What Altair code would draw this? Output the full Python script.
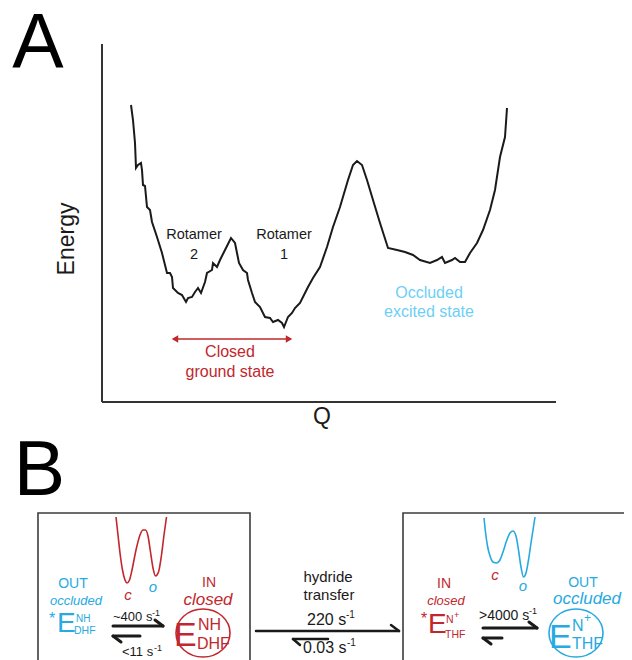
import altair as alt
import pandas as pd

RED = "#c1272d"
BLUE = "#27aae1"
LIGHT_BLUE = "#6dcff6"
INK = "#1a1a1a"
BOX = "#3c3c3c"
FONT = "Liberation Sans"

# ---------------- Panel A: energy landscape (arbitrary units)
curve_q = [29, 31, 33, 34, 36, 39, 40, 41, 43, 45,
           48, 50, 55, 60, 65, 68, 70, 71, 76, 80,
           84, 86, 90, 93, 96, 99, 103, 105, 110, 111,
           115, 118, 123, 129, 133, 135, 137, 141, 145, 146,
           150, 153, 158, 163, 168, 171, 176, 180, 182, 186,
           190, 193, 198, 203, 206, 211, 218, 225, 231, 238,
           246, 251, 255, 260, 265, 271, 278, 286, 295, 303,
           311, 318, 328, 335, 340, 343, 350, 353, 358, 363,
           368, 375, 381, 388, 393, 398, 403, 405]
curve_e = [297, 282, 259, 234, 237, 239, 232, 217, 216, 195,
           192, 180, 165, 149, 129, 129, 125, 114, 109, 107,
           100, 104, 105, 110, 114, 109, 120, 129, 132, 139,
           135, 142, 152, 164, 159, 149, 139, 132, 129, 122,
           109, 100, 95, 85, 84, 80, 82, 79, 75, 85,
           89, 94, 99, 109, 115, 124, 135, 155, 175, 195,
           222, 237, 241, 237, 222, 202, 179, 154, 152, 150,
           147, 142, 139, 142, 145, 139, 142, 144, 140, 140,
           149, 159, 172, 192, 212, 245, 265, 294]
axis_q_max = 454
axis_e_max = 358

a_text = ["Rotamer", "2", "Rotamer", "1", "Occluded", "excited state",
          "Closed", "ground state", "Q"]
a_text_q = [92, 92, 182, 182, 327, 327, 128, 128, 220]
a_text_e = [167, 147, 167, 147, 109, 90, 50, 30, -15]
a_text_size = [14.5, 14.5, 14.5, 14.5, 16, 16, 16, 16, 23]
a_text_color = [INK, INK, INK, INK, LIGHT_BLUE, LIGHT_BLUE, RED, RED, INK]

closed_span_q = [71, 189]
closed_span_e = 63

# ---------------- Panel B: kinetic scheme (diagram units)
w_red_x = [116, 118, 120, 122.5, 125, 127, 129.5, 132, 136, 140,
           143, 145.5, 148, 150.5, 153, 155.5, 158.5, 161.5, 164, 166.5]
w_red_y = [517, 535, 553, 570, 580, 583, 580, 570, 550, 535,
           530, 530, 536, 552, 568, 576, 572, 555, 535, 517]
w_blue_x = [484, 485.5, 487.5, 490, 493, 496.5, 500, 503, 506.5, 510,
            513, 516, 518.5, 521, 523.5, 526, 528.5, 531, 533, 535]
w_blue_y = [518, 532, 546, 556, 562, 563, 560, 552, 541, 533,
            531, 536, 550, 567, 577, 573, 560, 543, 530, 517]

box_x = [38, 403]
box_x2 = [250, 680]
box_y = [513, 513]
box_y2 = [690, 690]

b_center = [("OUT", 73, 584, 14, BLUE), ("IN", 209, 583, 14, RED),
            ("hydride", 328, 577, 15, INK), ("transfer", 329, 595, 15, INK),
            ("IN", 444, 584, 14, RED), ("OUT", 583, 583, 14, BLUE)]
b_italic = [("occluded", 76, 601, 13, BLUE), ("closed", 208, 600, 17, RED),
            ("closed", 446, 601, 13, RED), ("occluded", 587, 599, 17, BLUE),
            ("c", 128, 595, 15, RED), ("o", 153, 587, 15, BLUE),
            ("c", 495, 575, 15, RED), ("o", 523, 586, 15, BLUE)]
b_left = [("*", 49, 624, 16, BLUE), ("E", 57, 632, 28, BLUE),
          ("NH", 76, 622, 10, BLUE), ("DHF", 74, 634, 10.5, BLUE),
          ("E", 174, 646, 34, RED), ("NH", 198, 630, 16, RED), ("DHF", 197, 649, 16, RED),
          ("*", 421, 624, 16, RED), ("E", 428, 633, 28, RED),
          ("N", 446, 623, 10.5, RED), ("+", 454, 618, 9, RED), ("THF", 445, 638, 10.5, RED),
          ("E", 549, 648, 34, BLUE), ("N", 572, 631, 16, BLUE),
          ("+", 584, 622, 12, BLUE), ("THF", 572, 649, 16, BLUE),
          ("~400 s", 113, 621, 13, INK), ("-1", 152, 616, 9, INK),
          ("<11 s", 122, 656, 13, INK), ("-1", 154, 651, 9, INK),
          ("220 s", 307, 625, 16, INK), ("-1", 346, 618, 10, INK),
          ("0.03 s", 303, 653, 16, INK), ("-1", 347, 646, 10, INK),
          (">4000 s", 479, 620, 14, INK), ("-1", 529, 614, 9, INK)]

# arrow segments: x, y, x2, y2, width
arrow_segs = [(113, 626, 163, 626, 3), (163, 626, 155, 620, 3),
              (113, 636, 140, 636, 3), (113, 636, 121, 642, 3),
              (256, 631, 399, 631, 2.5), (399, 631, 391, 625, 2.5),
              (293, 639, 328, 639, 2.5), (293, 639, 300, 645, 2.5),
              (483, 628, 537, 628, 3), (537, 628, 529, 622, 3),
              (483, 638, 502, 638, 3), (483, 638, 491, 644, 3)]

ellipse_x = [203, 576]
ellipse_y = [633, 633]
ellipse_color = [RED, BLUE]

# ---------------- scales (chart spans page pixels 8..624 x 8..660)
XA = alt.Scale(domain=[-94, 522], nice=False, zero=False)
YA = alt.Scale(domain=[-258, 394], nice=False, zero=False)
XB = alt.Scale(domain=[8, 624], nice=False, zero=False)
YB = alt.Scale(domain=[8, 660], nice=False, zero=False, reverse=True)


def xa(f):
    return alt.X(f"{f}:Q", scale=XA, axis=None)


def ya(f):
    return alt.Y(f"{f}:Q", scale=YA, axis=None)


def xb(f):
    return alt.X(f"{f}:Q", scale=XB, axis=None)


def yb(f):
    return alt.Y(f"{f}:Q", scale=YB, axis=None)


layers = []

# Panel A
curve = alt.Chart(pd.DataFrame({"q": curve_q, "e": curve_e})).mark_line(
    color=INK, strokeWidth=2).encode(x=xa("q"), y=ya("e"))
layers.append(curve)

axes_df = pd.DataFrame({"q": [0, 0], "e": [0, 0], "q2": [0, axis_q_max], "e2": [axis_e_max, 0]})
layers.append(alt.Chart(axes_df).mark_rule(color="#333333", strokeWidth=2).encode(
    x=xa("q"), y=ya("e"), x2="q2:Q", y2="e2:Q"))

a_df = pd.DataFrame({"t": a_text, "q": a_text_q, "e": a_text_e,
                     "fs": a_text_size, "c": a_text_color})
layers.append(alt.Chart(a_df).mark_text(font=FONT, baseline="middle", align="center").encode(
    x=xa("q"), y=ya("e"), text="t:N",
    size=alt.Size("fs:Q", scale=None, legend=None),
    color=alt.Color("c:N", scale=None, legend=None)))

layers.append(alt.Chart(pd.DataFrame({"t": ["Energy"], "q": [-35], "e": [163]})).mark_text(
    font=FONT, fontSize=23, angle=270, baseline="middle", align="center", color=INK).encode(
    x=xa("q"), y=ya("e"), text="t:N"))

layers.append(alt.Chart(pd.DataFrame({"t": ["A"], "q": [-64], "e": [334]})).mark_text(
    font=FONT, fontSize=77, baseline="alphabetic", align="center", color="#000000").encode(
    x=xa("q"), y=ya("e"), text="t:N"))

span_df = pd.DataFrame({"q": [closed_span_q[0]], "q2": [closed_span_q[1]], "e": [closed_span_e]})
layers.append(alt.Chart(span_df).mark_rule(color=RED, strokeWidth=1.6).encode(
    x=xa("q"), x2="q2:Q", y=ya("e")))
heads_df = pd.DataFrame({"q": [closed_span_q[0] + 2, closed_span_q[1] - 2],
                         "e": [closed_span_e, closed_span_e],
                         "s": ["triangle-left", "triangle-right"]})
layers.append(alt.Chart(heads_df).mark_point(filled=True, color=RED, opacity=1, size=55).encode(
    x=xa("q"), y=ya("e"), shape=alt.Shape("s:N", scale=None, legend=None)))

# Panel B
layers.append(alt.Chart(pd.DataFrame({"t": ["B"], "x": [39.5], "y": [495]})).mark_text(
    font=FONT, fontSize=77, baseline="alphabetic", align="center", color="#000000").encode(
    x=xb("x"), y=yb("y"), text="t:N"))

box_df = pd.DataFrame({"x": box_x, "x2": box_x2, "y": box_y, "y2": box_y2})
layers.append(alt.Chart(box_df).mark_rect(fillOpacity=0, stroke=BOX, strokeWidth=1.6).encode(
    x=xb("x"), x2="x2:Q", y=yb("y"), y2="y2:Q"))

w_df = pd.DataFrame({"x": w_red_x + w_blue_x, "y": w_red_y + w_blue_y,
                     "id": ["red"] * len(w_red_x) + ["blue"] * len(w_blue_x),
                     "c": [RED] * len(w_red_x) + [BLUE] * len(w_blue_x)})
layers.append(alt.Chart(w_df).mark_line(strokeWidth=1.6, interpolate="monotone").encode(
    x=xb("x"), y=yb("y"), detail="id:N",
    color=alt.Color("c:N", scale=None, legend=None)))

seg_df = pd.DataFrame(arrow_segs, columns=["x", "y", "x2", "y2", "w"])
layers.append(alt.Chart(seg_df).mark_rule(color=INK, strokeCap="round").encode(
    x=xb("x"), y=yb("y"), x2="x2:Q", y2="y2:Q",
    strokeWidth=alt.StrokeWidth("w:Q", scale=None, legend=None)))

ELLIPSE = "M-1,0A1,0.89,0,1,0,1,0A1,0.89,0,1,0,-1,0Z"
ell_df = pd.DataFrame({"x": ellipse_x, "y": ellipse_y, "c": ellipse_color})
layers.append(alt.Chart(ell_df).mark_point(shape=ELLIPSE, filled=False, opacity=1,
                                           size=2916, strokeWidth=1.6).encode(
    x=xb("x"), y=yb("y"), color=alt.Color("c:N", scale=None, legend=None)))


def text_layer(rows, **mk):
    df = pd.DataFrame(rows, columns=["t", "x", "y", "fs", "c"])
    return alt.Chart(df).mark_text(font=FONT, **mk).encode(
        x=xb("x"), y=yb("y"), text="t:N",
        size=alt.Size("fs:Q", scale=None, legend=None),
        color=alt.Color("c:N", scale=None, legend=None))


layers.append(text_layer(b_center, align="center", baseline="middle"))
layers.append(text_layer(b_italic, align="center", baseline="middle", fontStyle="italic"))
layers.append(text_layer(b_left, align="left", baseline="alphabetic"))

chart = alt.layer(*layers).resolve_scale(x="independent", y="independent").properties(
    width=616, height=652, padding=0,
    autosize=alt.AutoSizeParams(type="none"),
    background="white",
).configure_view(strokeWidth=0)

chart.save("out.html", embed_options={"renderer": "svg", "actions": False})
